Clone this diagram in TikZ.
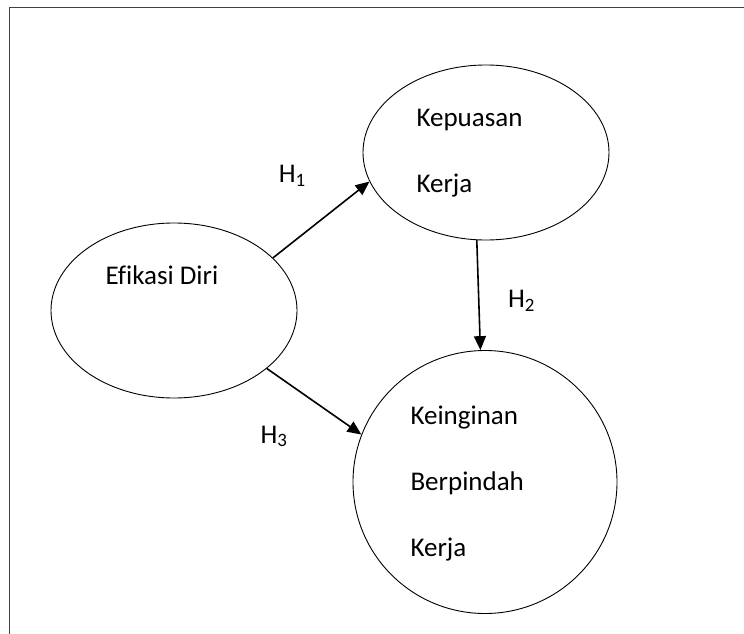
\documentclass[tikz,border=0pt]{standalone}
\usepackage{fontspec}
\setmainfont[Ligatures=NoCommon]{Carlito}
\usetikzlibrary{shapes.geometric, arrows.meta, positioning}

\begin{document}
\begin{tikzpicture}[x=1pt, y=-1pt,
	var/.style = {draw, ellipse, inner sep=0pt, line width=0.9pt},
	lbl/.style = {anchor=west, align=left, font=\fontsize{27}{66}\selectfont},
	hyp/.style = {font=\fontsize{27}{30}\selectfont},
	path/.style = {line width=1.6pt, -{Triangle[length=14pt, width=12pt]}}]
	\useasboundingbox (0,0) rectangle (744,634);
	% frame
	\draw[line width=1.8pt, black!75] (9.5,634) -- (9.5,7.5) -- (744,7.5);
	% variables
	\node[var, minimum width=246pt, minimum height=175pt] (efikasi) at (174,310.5) {};
	\node[var, minimum width=246pt, minimum height=175pt] (kepuasan) at (486,152.5) {};
	\node[var, minimum width=264pt, minimum height=263pt] (keinginan) at (485,482) {};
	\node[lbl] (efikasi-t) at ([xshift=-72pt, yshift=35pt]efikasi.center) {Efikasi Diri};
	\node[lbl] (kepuasan-t) at ([xshift=-73pt, yshift=-1pt]kepuasan.center) {Kepuasan\\Kerja};
	\node[lbl] (keinginan-t) at ([xshift=-78pt, yshift=-2pt]keinginan.center) {Keinginan\\Berpindah\\Kerja};
	% hypotheses
	\draw[path] (efikasi.28) -- (kepuasan.194) node[hyp, midway, xshift=-29pt, yshift=44pt] (h1) {H\textsubscript{1}};
	\draw[path] (kepuasan.264) -- (keinginan.92) node[hyp, midway, xshift=43pt, yshift=-6pt] (h2) {H\textsubscript{2}};
	\draw[path] (efikasi.328) -- (keinginan.159) node[hyp, midway, xshift=-40pt, yshift=-35pt] (h3) {H\textsubscript{3}};
\end{tikzpicture}
\end{document}
